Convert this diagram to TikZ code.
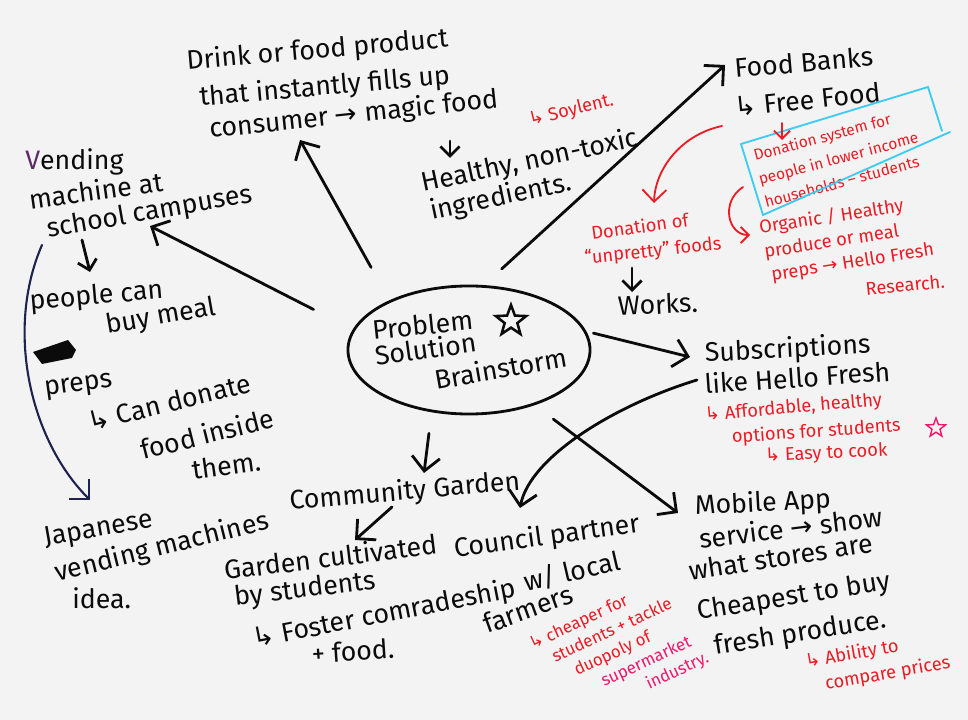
\documentclass[tikz,border=0pt]{standalone}
\usepackage{fontspec}
\setmainfont{Fira Sans}
\newfontfamily\arrowfont{DejaVu Sans}
\usetikzlibrary{arrows.meta,shapes.geometric}
\definecolor{Board}{HTML}{F3F3F3}
\definecolor{Ink}{HTML}{0B0B0B}
\definecolor{InkPlum}{HTML}{5E2A66}
\definecolor{InkNavy}{HTML}{1E2250}
\definecolor{Marker}{HTML}{EC1B24}
\definecolor{MarkerPink}{HTML}{F0186A}
\definecolor{Frame}{HTML}{3CCBF2}
\newcommand{\hookto}{{\arrowfont ↳}}
\newcommand{\goesto}{{\arrowfont →}}

\begin{document}
\begin{tikzpicture}[x=0.025cm, y=-0.025cm, txt/.style={anchor=base west, inner sep=0pt, text=Ink, font=\fontsize{19}{22}\selectfont}, note/.style={anchor=base west, inner sep=0pt, text=Marker, font=\fontsize{13}{15}\selectfont}, boxnote/.style={note, font=\fontsize{11}{13}\selectfont}, slimnote/.style={note, font=\fontsize{12}{14}\selectfont}, arr/.style={draw=Ink, line width=2pt, line cap=round, -{Straight Barb[length=3.5mm,width=7mm]}}, smallarr/.style={arr, -{Straight Barb[length=2.4mm,width=4.8mm]}}, redarr/.style={draw=Marker, line width=1.3pt, line cap=round, -{Straight Barb[length=3mm,width=6mm]}}]
\fill[Board] (0,0) rectangle (968,720);
\useasboundingbox (0,0) rectangle (968,720);
% centre
\node[ellipse, draw=Ink, line width=2pt, minimum width=6.05cm, minimum height=3.2cm, inner sep=0pt] (core) at (469,350) {};
\node[txt, rotate=6] (prob) at (373,340) {Problem};
\node[txt, rotate=8] (sol) at (376,366) {Solution};
\node[txt, rotate=10] (brain) at (436,390) {Brainstorm};
\node[star, star points=5, star point ratio=2.4, draw=Ink, line width=1.8pt, minimum size=0.8cm, inner sep=0pt] (starmark) at (511,321) {};
% drink idea
\node[txt, rotate=5] (drink) at (187,70) {Drink or food product};
\node[txt, rotate=5] (instant) at (200,106) {that instantly fills up};
\node[txt, rotate=6] (consumer) at (210,138) {consumer \goesto{} magic food};
\node[txt, rotate=12] (healthy) at (423,192) {Healthy, non-toxic};
\node[txt, rotate=12] (ingred) at (432,220) {ingredients.};
\node[note, rotate=14] (soylent) at (530,126) {\hookto{} Soylent.};
% food banks
\node[txt, rotate=5] (banks) at (735,78) {Food Banks};
\node[txt, rotate=6] (freefood) at (735,117) {\hookto{} Free Food};
\node[boxnote, rotate=15] (don1) at (755,161) {Donation system for};
\node[boxnote, rotate=15] (don2) at (760,185) {people in lower income};
\node[boxnote, rotate=15] (don3) at (766,208) {households – students};
\node[note, rotate=9] (org1) at (760,234) {Organic / Healthy};
\node[note, rotate=9] (org2) at (765,258) {produce or meal};
\node[note, rotate=9] (org3) at (772,281) {preps \goesto{} Hello Fresh};
\node[note, rotate=6] (org4) at (866,296) {Research.};
\node[note, rotate=8] (unpr1) at (592,240) {Donation of};
\node[note, rotate=6] (unpr2) at (585,264) {“unpretty” foods};
\node[txt, rotate=3] (works) at (618,316) {Works.};
% vending
\node[txt] (vend1) at (25,170) {{\color{InkPlum}V}ending};
\node[txt, rotate=8] (vend2) at (30,210) {machine at};
\node[txt, rotate=10] (vend3) at (48,238) {school campuses};
\node[txt, rotate=5] (ppl1) at (30,310) {people can};
\node[txt, rotate=10] (ppl2) at (107,334) {buy meal};
\node[txt, rotate=8] (ppl3) at (45,396) {preps};
\node[txt, rotate=14] (give1) at (90,432) {\hookto{} Can donate};
\node[txt, rotate=14] (give2) at (143,460) {food inside};
\node[txt, rotate=8] (give3) at (193,480) {them.};
\node[txt, rotate=10] (jp1) at (45,546) {Japanese};
\node[txt, rotate=14] (jp2) at (57,582) {vending machines};
\node[txt] (jp3) at (72,609) {idea.};
% subscriptions
\node[txt, rotate=3] (subs1) at (705,362) {Subscriptions};
\node[txt, rotate=4] (subs2) at (705,394) {like Hello Fresh};
\node[note, rotate=5] (aff1) at (705,421) {\hookto{} Affordable, healthy};
\node[note, rotate=4] (aff2) at (732,443) {options for students};
\node[note, rotate=3] (aff3) at (765,462) {\hookto{} Easy to cook};
\node[star, star points=5, star point ratio=2.4, draw=MarkerPink, line width=1pt, minimum size=0.5cm, inner sep=0pt] (pinkstar) at (936,428) {};
% community garden
\node[txt, rotate=5] (comm) at (290,510) {Community Garden};
\node[txt, rotate=7] (cult1) at (225,580) {Garden cultivated};
\node[txt, rotate=7] (cult2) at (235,606) {by students};
\node[txt, rotate=11] (cult3) at (254,648) {\hookto{} Foster comradeship};
\node[txt, rotate=4] (cult4) at (312,664) {+ food.};
\node[txt, rotate=8] (coun1) at (455,558) {Council partner};
\node[txt, rotate=13] (coun2) at (526,592) {w/ local};
\node[txt, rotate=20] (coun3) at (487,634) {farmers};
\node[slimnote, rotate=25] (chp1) at (532,650) {\hookto{} cheaper for};
\node[slimnote, rotate=25] (chp2) at (555,663) {students + tackle};
\node[slimnote, rotate=25] (chp3) at (577,676) {duopoly of};
\node[slimnote, rotate=25, text=MarkerPink] (chp4) at (604,687) {supermarket};
\node[slimnote, rotate=25, text=MarkerPink] (chp5) at (649,690) {industry.};
% mobile app
\node[txt, rotate=3] (app1) at (695,515) {Mobile App};
\node[txt, rotate=7] (app2) at (700,549) {service \goesto{} show};
\node[txt, rotate=9] (app3) at (690,581) {what stores are};
\node[txt, rotate=9] (app4) at (698,620) {Cheapest to buy};
\node[txt, rotate=9] (app5) at (715,655) {fresh produce.};
\node[note, rotate=10] (abl1) at (806,668) {\hookto{} Ability to};
\node[note, rotate=10] (abl2) at (826,690) {compare prices};
% frame and scribble
\draw[Frame, line width=1.3pt, line cap=round] (741,144) -- (928,87) -- (942,131);
\draw[Frame, line width=1.3pt, line cap=round] (950,132) -- (763,215) -- (741,144);
\fill[Ink] (33,352) -- (68,340) -- (76,350) -- (72,358) -- (42,364) -- cycle;
% arrow ends
\coordinate (tipIdea) at (300,140);
\coordinate (tipVend) at (150,226);
\coordinate (tipBanks) at (725,65);
\coordinate (tipSubs) at (690,357);
\coordinate (tipGarden) at (424,473);
\coordinate (tipApp) at (678,513);
\coordinate (subsFoot) at (697,380);
\coordinate (tipCouncil) at (520,508);
\coordinate (commFoot) at (392,507);
\coordinate (tipCult) at (355,540);
\coordinate (magicFoot) at (450,141);
\coordinate (tipHealthy) at (450,158);
\coordinate (vendFoot) at (82,240);
\coordinate (tipPeople) at (90,272);
\coordinate (vendSide) at (42,245);
\coordinate (tipJapan) at (90,500);
\coordinate (freeSide) at (722,126);
\coordinate (tipUnpretty) at (654,203);
\coordinate (freeFoot) at (782,123);
\coordinate (tipBox) at (782,140);
\coordinate (unprFoot) at (632,268);
\coordinate (tipWorks) at (632,292);
\coordinate (boxSide) at (743,187);
\coordinate (tipOrganic) at (750,235);
% connectors
\draw[arr, shorten <=0.94cm] (core.148) -- (tipIdea);
\draw[arr, shorten <=1.1cm] (core.170) -- (tipVend);
\draw[arr, shorten <=0.6cm] (core.77) -- (tipBanks);
\draw[arr, shorten <=0.18cm] (core.9) -- (tipSubs);
\draw[arr, shorten <=0.53cm] (core.239) -- (tipGarden);
\draw[arr, shorten <=0.58cm] (core.320) -- (tipApp);
\draw[arr] (subsFoot) .. controls (615,405) and (530,457) .. (tipCouncil);
\draw[arr] (commFoot) -- (tipCult);
\draw[smallarr] (magicFoot) -- (tipHealthy);
\draw[smallarr] (vendFoot) -- (tipPeople);
\draw[smallarr] (unprFoot) -- (tipWorks);
\draw[arr, draw=InkNavy, line width=1.5pt] (vendSide) .. controls (5,330) and (30,440) .. (tipJapan);
\draw[redarr] (freeSide) .. controls (680,135) and (655,170) .. (tipUnpretty);
\draw[redarr, -{Straight Barb[length=2mm,width=4mm]}] (freeFoot) -- (tipBox);
\draw[redarr, -{Straight Barb[length=2mm,width=4mm]}] (boxSide) .. controls (720,202) and (728,235) .. (tipOrganic);
\end{tikzpicture}
\end{document}
